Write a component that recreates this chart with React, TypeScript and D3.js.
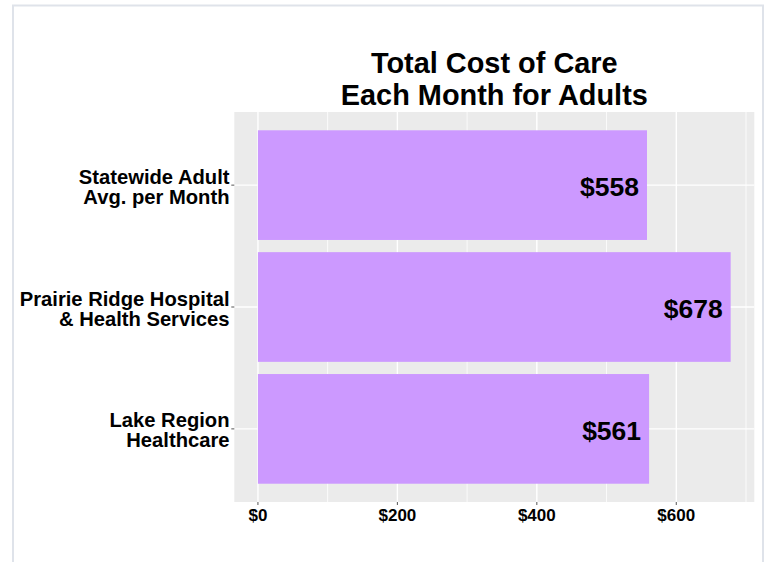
import { useRef, useEffect } from 'react';
import * as d3 from 'd3';

const categories = [
  ['Statewide Adult', 'Avg. per Month'],
  ['Prairie Ridge Hospital', '& Health Services'],
  ['Lake Region', 'Healthcare'],
];
const costs = [558, 678, 561];
const majorTicks = [0, 200, 400, 600];
const minorTicks = [100, 300, 500, 700];
const titleLines = ['Total Cost of Care', 'Each Month for Adults'];

export default function App() {
  const svgRef = useRef<SVGSVGElement | null>(null);

  useEffect(() => {
    const width = 768, height = 562;
    // panel area (ggplot-style grey panel)
    const panel = { left: 234.3, right: 754.3, top: 112, bottom: 502 };
    const font = "'Liberation Sans', Arial, sans-serif";

    const svg = d3.select(svgRef.current);
    svg.selectAll('*').remove();
    svg.attr('width', width).attr('height', height);

    // outer frame
    svg.append('rect')
      .attr('x', 13).attr('y', 5.5)
      .attr('width', 750).attr('height', height)
      .attr('fill', 'white')
      .attr('stroke', '#dfe3ea')
      .attr('stroke-width', 2);

    const maxVal = d3.max(costs) || 0;
    const pad = maxVal * 0.05;
    const x = d3.scaleLinear()
      .domain([-pad, maxVal + pad])
      .range([panel.left, panel.right]);

    const keys = categories.map(c => c.join(' '));
    const y = d3.scaleBand<string>()
      .domain(keys)
      .range([panel.top, panel.bottom])
      .paddingInner(0.1)
      .paddingOuter(0.15);

    // panel background
    svg.append('rect')
      .attr('x', panel.left).attr('y', panel.top)
      .attr('width', panel.right - panel.left)
      .attr('height', panel.bottom - panel.top)
      .attr('fill', '#ebebeb');

    // grid
    minorTicks.forEach(t => {
      svg.append('line')
        .attr('x1', x(t)).attr('x2', x(t))
        .attr('y1', panel.top).attr('y2', panel.bottom)
        .attr('stroke', 'white').attr('stroke-width', 0.8);
    });
    majorTicks.forEach(t => {
      svg.append('line')
        .attr('x1', x(t)).attr('x2', x(t))
        .attr('y1', panel.top).attr('y2', panel.bottom)
        .attr('stroke', 'white').attr('stroke-width', 1.4);
    });
    keys.forEach(k => {
      const cy = (y(k) || 0) + y.bandwidth() / 2;
      svg.append('line')
        .attr('x1', panel.left).attr('x2', panel.right)
        .attr('y1', cy).attr('y2', cy)
        .attr('stroke', 'white').attr('stroke-width', 1.4);
    });

    // bars
    costs.forEach((v, i) => {
      const by = y(keys[i]) || 0;
      svg.append('rect')
        .attr('x', x(0))
        .attr('y', by)
        .attr('width', x(v) - x(0))
        .attr('height', y.bandwidth())
        .attr('fill', '#cc99ff');

      svg.append('text')
        .attr('x', x(v) - 8)
        .attr('y', by + y.bandwidth() / 2 + 11)
        .attr('text-anchor', 'end')
        .attr('font-family', font)
        .attr('font-weight', 'bold')
        .attr('font-size', 26.5)
        .attr('fill', 'black')
        .text(`$${v}`);
    });

    // x axis ticks + labels
    majorTicks.forEach(t => {
      svg.append('line')
        .attr('x1', x(t)).attr('x2', x(t))
        .attr('y1', panel.bottom).attr('y2', panel.bottom + 3)
        .attr('stroke', '#555').attr('stroke-width', 1);
      svg.append('text')
        .attr('x', x(t))
        .attr('y', 520.7)
        .attr('text-anchor', 'middle')
        .attr('font-family', font)
        .attr('font-weight', 'bold')
        .attr('font-size', 17)
        .attr('fill', 'black')
        .text(`$${t}`);
    });

    // y axis ticks + labels
    categories.forEach((lines, i) => {
      const cy = (y(keys[i]) || 0) + y.bandwidth() / 2;
      svg.append('line')
        .attr('x1', panel.left - 3).attr('x2', panel.left)
        .attr('y1', cy).attr('y2', cy)
        .attr('stroke', '#555').attr('stroke-width', 1);
      lines.forEach((s, j) => {
        svg.append('text')
          .attr('x', 229.5)
          .attr('y', cy - 1.5 + j * 20)
          .attr('text-anchor', 'end')
          .attr('font-family', font)
          .attr('font-weight', 'bold')
          .attr('font-size', 20.2)
          .attr('fill', 'black')
          .text(s);
      });
    });

    // title
    const cx = (panel.left + panel.right) / 2;
    titleLines.forEach((s, j) => {
      svg.append('text')
        .attr('x', cx)
        .attr('y', 73.3 + j * 31.7)
        .attr('text-anchor', 'middle')
        .attr('font-family', font)
        .attr('font-weight', 'bold')
        .attr('font-size', 28.9)
        .attr('fill', 'black')
        .text(s);
    });
  }, []);

  return <svg ref={svgRef} style={{ position: 'absolute', left: 0, top: 0 }}></svg>;
}
